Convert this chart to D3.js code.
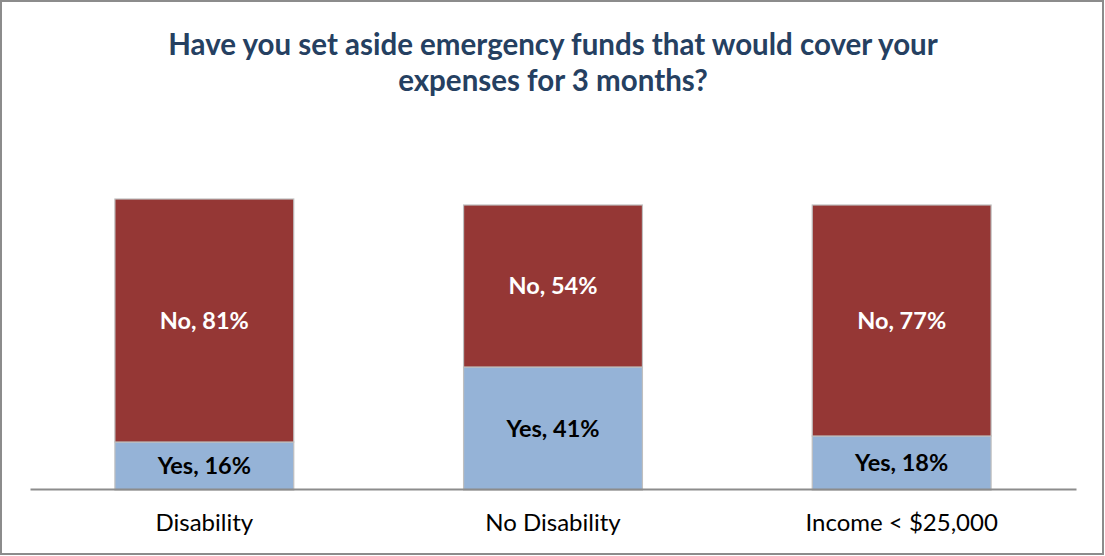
<!DOCTYPE html>
<html><head><meta charset="utf-8">
<script src="https://cdn.jsdelivr.net/npm/d3@7"></script>
<style>html,body{margin:0;padding:0;background:#fff;}</style>
</head><body>
<svg id="c" width="1105" height="556"></svg>
<script>
const categories = ["Disability", "No Disability", "Income < $25,000"];
const yesValues = [16, 41, 18];
const noValues = [81, 54, 77];
const seriesNames = ["Yes", "No"];
const titleLines = ["Have you set aside emergency funds that would cover your", "expenses for 3 months?"];

const svg = d3.select("#c");
const W = 1105, H = 556;
const font = "Lato, 'Open Sans', sans-serif";

svg.append("rect").attr("x", 1).attr("y", 1).attr("width", W - 3).attr("height", H - 3)
  .attr("fill", "#fff").attr("stroke", "#8c8c8c").attr("stroke-width", 2);

const x = d3.scaleBand().domain(categories).range([30, 1076]).paddingInner(0.487).paddingOuter(0.2435);
const y = d3.scaleLinear().domain([0, 100]).range([490, 190]);

const data = categories.map((c, i) => ({cat: c, Yes: yesValues[i], No: noValues[i]}));
const stacked = d3.stack().keys(seriesNames)(data);
const colors = {Yes: "#95B3D7", No: "#953735"};
const labelColors = {Yes: "#000", No: "#fff"};

stacked.forEach(s => {
  const g = svg.append("g");
  g.selectAll("rect").data(s).join("rect")
    .attr("x", d => x(d.data.cat))
    .attr("y", d => y(d[1]))
    .attr("width", x.bandwidth())
    .attr("height", d => y(d[0]) - y(d[1]))
    .attr("fill", colors[s.key])
    .attr("stroke", "#bfbfbf").attr("stroke-width", 1.2);
  g.selectAll("text").data(s).join("text")
    .attr("x", d => x(d.data.cat) + x.bandwidth() / 2)
    .attr("y", d => (y(d[0]) + y(d[1])) / 2)
    .attr("dy", "0.36em")
    .attr("text-anchor", "middle")
    .attr("font-family", font).attr("font-weight", "bold").attr("font-size", 23.5)
    .attr("fill", labelColors[s.key])
    .text(d => `${s.key}, ${d.data[s.key]}%`);
});

const xAxis = svg.append("g").attr("transform", "translate(0,489)")
  .call(d3.axisBottom(x).tickSize(0).tickPadding(25));
xAxis.select(".domain").attr("stroke", "#8c8c8c").attr("stroke-width", 2);
xAxis.selectAll("text").attr("font-family", font).attr("font-size", 24).attr("fill", "#000");

svg.append("text").attr("x", 553).attr("text-anchor", "middle")
  .attr("font-family", font).attr("font-weight", "bold").attr("font-size", 29.5).attr("fill", "#254061")
  .selectAll("tspan").data(titleLines).join("tspan")
  .attr("x", 553).attr("y", (d, i) => 54.5 + i * 36).text(d => d);
</script>
</body></html>
